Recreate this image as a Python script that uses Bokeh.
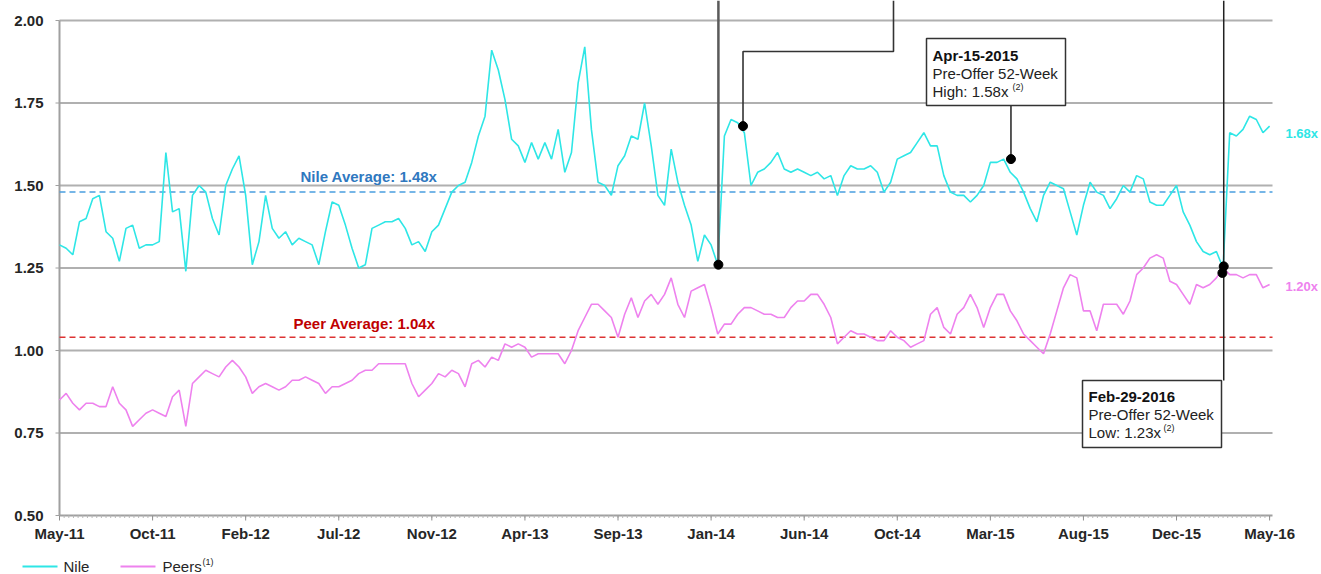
import pandas as pd
from bokeh.plotting import figure
from bokeh.models import Range1d, Label, BoxAnnotation
from bokeh.core.properties import value
from bokeh.embed import file_html
from bokeh.resources import INLINE

# ---------------- data ----------------
start_date = "2011-05-15"
step_days = 10

nile = [1.32, 1.31, 1.29, 1.39, 1.40, 1.46, 1.47, 1.36, 1.34, 1.27, 1.37,
        1.38, 1.31, 1.32, 1.32, 1.33, 1.60, 1.42, 1.43, 1.24, 1.47,
        1.50, 1.48, 1.40, 1.35, 1.50, 1.55, 1.59, 1.47, 1.26, 1.33,
        1.47, 1.37, 1.34, 1.36, 1.32, 1.34, 1.33, 1.32, 1.26, 1.36,
        1.45, 1.44, 1.38, 1.31, 1.25, 1.26, 1.37, 1.38, 1.39, 1.39,
        1.40, 1.37, 1.32, 1.33, 1.30, 1.36, 1.38, 1.43, 1.48, 1.50,
        1.51, 1.57, 1.65, 1.71, 1.91, 1.85, 1.76, 1.64, 1.62, 1.57,
        1.63, 1.58, 1.63, 1.58, 1.67, 1.54, 1.60, 1.81, 1.92, 1.67,
        1.51, 1.50, 1.47, 1.56, 1.59, 1.65, 1.64, 1.75, 1.62, 1.47,
        1.44, 1.61, 1.51, 1.44, 1.38, 1.27, 1.35, 1.32, 1.26, 1.65,
        1.70, 1.69, 1.66, 1.50, 1.54, 1.55, 1.57, 1.60, 1.55, 1.54,
        1.55, 1.54, 1.53, 1.54, 1.52, 1.53, 1.47, 1.53, 1.56, 1.55,
        1.55, 1.56, 1.54, 1.48, 1.51, 1.58, 1.59, 1.60, 1.63, 1.66,
        1.62, 1.62, 1.53, 1.48, 1.47, 1.47, 1.45, 1.47, 1.50, 1.57,
        1.57, 1.58, 1.54, 1.52, 1.48, 1.43, 1.39, 1.47, 1.51, 1.50,
        1.49, 1.42, 1.35, 1.44, 1.51, 1.48, 1.47, 1.43, 1.46, 1.50,
        1.48, 1.53, 1.52, 1.45, 1.44, 1.44, 1.47, 1.50, 1.42, 1.38,
        1.33, 1.30, 1.29, 1.30, 1.25, 1.66, 1.65, 1.67, 1.71, 1.70,
        1.66, 1.68]

peers = [0.85, 0.87, 0.84, 0.82, 0.84, 0.84, 0.83, 0.83, 0.89, 0.84, 0.82,
         0.77, 0.79, 0.81, 0.82, 0.81, 0.80, 0.86, 0.88, 0.77, 0.90,
         0.92, 0.94, 0.93, 0.92, 0.95, 0.97, 0.95, 0.92, 0.87, 0.89,
         0.90, 0.89, 0.88, 0.89, 0.91, 0.91, 0.92, 0.91, 0.90, 0.87,
         0.89, 0.89, 0.90, 0.91, 0.93, 0.94, 0.94, 0.96, 0.96, 0.96,
         0.96, 0.96, 0.90, 0.86, 0.88, 0.90, 0.93, 0.92, 0.94, 0.93,
         0.89, 0.96, 0.97, 0.95, 0.98, 0.97, 1.02, 1.01, 1.02, 1.01,
         0.98, 0.99, 0.99, 0.99, 0.99, 0.96, 1.00, 1.06, 1.10, 1.14,
         1.14, 1.12, 1.10, 1.04, 1.11, 1.16, 1.10, 1.15, 1.17, 1.14,
         1.17, 1.22, 1.14, 1.10, 1.18, 1.19, 1.20, 1.13, 1.05, 1.08,
         1.08, 1.11, 1.13, 1.13, 1.12, 1.11, 1.11, 1.10, 1.10, 1.13,
         1.15, 1.15, 1.17, 1.17, 1.14, 1.10, 1.02, 1.04, 1.06, 1.05,
         1.05, 1.04, 1.03, 1.03, 1.06, 1.04, 1.03, 1.01, 1.02, 1.03,
         1.11, 1.13, 1.07, 1.05, 1.11, 1.13, 1.17, 1.13, 1.07, 1.13,
         1.17, 1.17, 1.12, 1.09, 1.05, 1.03, 1.01, 0.99, 1.05, 1.12,
         1.19, 1.23, 1.22, 1.12, 1.12, 1.06, 1.14, 1.14, 1.14, 1.11,
         1.15, 1.23, 1.25, 1.28, 1.29, 1.28, 1.21, 1.20, 1.17, 1.14,
         1.20, 1.19, 1.20, 1.22, 1.25, 1.23, 1.23, 1.22, 1.23, 1.23,
         1.19, 1.20]

nile_avg = 1.48
peer_avg = 1.04

tick_labels = ["May-11", "Oct-11", "Feb-12", "Jul-12", "Nov-12", "Apr-13", "Sep-13",
               "Jan-14", "Jun-14", "Oct-14", "Mar-15", "Aug-15", "Dec-15", "May-16"]
tick_step_days = 140
y_ticks = [0.50, 0.75, 1.00, 1.25, 1.50, 1.75, 2.00]

event_dates = ["2014-01-30", "2014-03-08", "2015-04-15", "2016-02-29", "2016-02-27"]
event_values = [1.26, 1.68, 1.58, 1.255, 1.235]

# ---------------- layout helpers ----------------
t0 = pd.Timestamp(start_date)
x = [i * step_days for i in range(len(nile))]
ev_x = [(pd.Timestamp(d) - t0).days for d in event_dates]

W, H = 1321, 574
DAYS_PER_PX = 1.504
PX_PER_UNIT = 330.0
X_LEFT_PX, Y_TOP_PX = 59, 20      # pixel of day 0 / of value 2.00
X_RIGHT_PX = 1272


def dx(px):  # pixel x -> data x
    return (px - X_LEFT_PX) * DAYS_PER_PX


def dy(py):  # pixel y -> data y
    return 2.0 - (py - Y_TOP_PX) / PX_PER_UNIT


FONT = "Liberation Sans"
TXT = "#262626"
CYAN = "#2ee6e6"
PINK = "#ee82ee"
GRID = "#b0b0b0"

p = figure(width=W, height=H, title=None,
           x_range=Range1d(dx(0), dx(W)), y_range=Range1d(dy(H), dy(0)),
           x_axis_location=None, y_axis_location=None,
           output_backend="svg", toolbar_location=None,
           min_border_left=0, min_border_right=0, min_border_top=0, min_border_bottom=0)
p.outline_line_color = None
p.xgrid.visible = False
p.ygrid.visible = False
p.background_fill_color = "white"
p.border_fill_color = "white"

x_end = dx(X_RIGHT_PX)
major = [k * tick_step_days for k in range(len(tick_labels))]
minor = list(range(0, int(x_end) + 1, 7))

# horizontal grid lines
grid_y = y_ticks[1:]
p.segment(x0=[0] * len(grid_y), x1=[x_end] * len(grid_y), y0=grid_y, y1=grid_y,
          line_color=GRID, line_width=2)

# axes
p.line([0, 0], [y_ticks[0], y_ticks[-1]], line_color="#a0a0a0", line_width=2)
p.segment(x0=[dx(55)] * len(y_ticks), x1=[0] * len(y_ticks), y0=y_ticks, y1=y_ticks,
          line_color="#a0a0a0", line_width=1)
p.line([0, x_end], [y_ticks[0], y_ticks[0]], line_color="#a0a0a0", line_width=2)
p.segment(x0=minor, x1=minor, y0=[y_ticks[0]] * len(minor), y1=[dy(517.5)] * len(minor),
          line_color="#b8b8b8", line_width=1)
p.segment(x0=major, x1=major, y0=[y_ticks[0]] * len(major), y1=[dy(520)] * len(major),
          line_color="#909090", line_width=1)

p.text(x=[dx(43)] * len(y_ticks), y=y_ticks, text=[f"{v:.2f}" for v in y_ticks],
       text_font=value(FONT), text_font_size="15px", text_font_style="bold",
       text_color=TXT, text_align="right", text_baseline="middle")
p.text(x=major, y=[dy(533)] * len(major), text=tick_labels,
       text_font=value(FONT), text_font_size="15px", text_font_style="bold",
       text_color=TXT, text_align="center", text_baseline="middle")

# averages
p.line([0, x_end], [nile_avg, nile_avg], line_color="#4a9fe0", line_dash="6 4", line_width=1.5)
p.line([0, x_end], [peer_avg, peer_avg], line_color="#dd3333", line_dash="6 4", line_width=1.5)

# series
p.line(x, nile, line_color=CYAN, line_width=1.6)
p.line(x, peers, line_color=PINK, line_width=1.6)

# callout connector lines
y_top = dy(0)
p.line([ev_x[0], ev_x[0]], [event_values[0], y_top], line_color="#5a5a5a", line_width=2.5)
p.line([ev_x[1], ev_x[1], dx(893), dx(893)], [event_values[1], dy(51), dy(51), y_top],
       line_color="#333333", line_width=1.6)
p.line([ev_x[2], ev_x[2]], [event_values[2], dy(105)], line_color="#222222", line_width=1.5)
p.line([ev_x[3], ev_x[3]], [y_top, dy(380)], line_color="#222222", line_width=1.5)

p.scatter(ev_x, event_values, size=9, color="black")

# callout boxes
p.add_layout(BoxAnnotation(left=dx(926), right=dx(1065), top=dy(38), bottom=dy(105),
                           fill_color="white", fill_alpha=1, line_color="#333333",
                           line_width=1.5, line_alpha=1))
p.add_layout(BoxAnnotation(left=dx(1082), right=dx(1221), top=dy(380), bottom=dy(447),
                           fill_color="white", fill_alpha=1, line_color="#333333",
                           line_width=1.5, line_alpha=1))


def lab(px, py, text, size="15px", color=TXT, style="normal", align="left"):
    p.add_layout(Label(x=dx(px), y=dy(py), text=text, text_font=FONT,
                       text_font_size=size, text_color=color, text_font_style=style,
                       text_align=align, text_baseline="middle"))


lab(932, 55, "Apr-15-2015", style="bold", color="#111111")
lab(932, 73, "Pre-Offer 52-Week", color="#222222")
lab(932, 91, f"High: {event_values[2]:.2f}x", color="#222222")
lab(1012, 86, "(2)", size="9px", color="#222222")

lab(1088, 396, "Feb-29-2016", style="bold", color="#111111")
lab(1088, 414, "Pre-Offer 52-Week", color="#222222")
lab(1088, 432, "Low: 1.23x", color="#222222")
lab(1163, 427, "(2)", size="9px", color="#222222")

lab(300, 176, f"Nile Average: {nile_avg:.2f}x", color="#2f78bf", style="bold")
lab(293, 323, f"Peer Average: {peer_avg:.2f}x", color="#c00000", style="bold")

lab(1285, 133, f"{nile[-1]:.2f}x", size="13px", color=CYAN, style="bold")
lab(1285, 286, f"{peers[-1]:.2f}x", size="13px", color=PINK, style="bold")

# legend (drawn manually below the axis)
p.line([dx(22), dx(57)], [dy(566), dy(566)], line_color=CYAN, line_width=2)
p.line([dx(120), dx(155)], [dy(566), dy(566)], line_color=PINK, line_width=2)
lab(63, 566, "Nile")
lab(162, 566, "Peers")
lab(202, 561, "(1)", size="9px")

open("out.html", "w").write(file_html(p, INLINE))
